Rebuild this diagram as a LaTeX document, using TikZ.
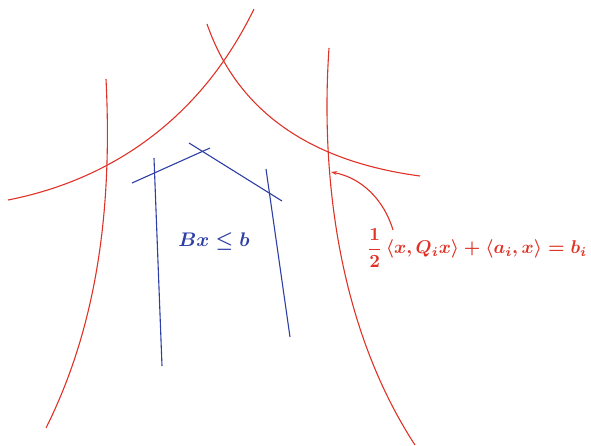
\documentclass[tikz,border=0pt]{standalone}
\usepackage{amsmath}
\usetikzlibrary{arrows.meta}
\definecolor{cred}{RGB}{222,50,38}
\definecolor{cblue}{RGB}{45,62,165}
\begin{document}
\begin{tikzpicture}[x=1pt,y=-1pt,
  quad/.style={draw=cred,line width=1.1pt},
  lin/.style={draw=cblue,line width=1.1pt},
  lbl/.style={inner sep=0pt}]
\useasboundingbox (0,0) rectangle (591,445);
% red quadratic curves
\draw[quad] (8,200) .. controls (110,180) and (200,120) .. (254,9);
\draw[quad] (207,24) .. controls (230,90) and (285,158) .. (420,176);
\draw[quad] (106,79) .. controls (112,200) and (100,320) .. (46,428);
\draw[quad] (329,48) .. controls (320,180) and (340,330) .. (415,445);
% blue linear constraints
\draw[lin] (154,158) -- (162,366);
\draw[lin] (266,169) -- (290,337);
\draw[lin] (132,183) -- (210,148);
\draw[lin] (189,143) -- (282,201);
% labels
\node[lbl,text=cblue] (bx) at (214,242) {\scalebox{1.97}{\boldmath$Bx \le b$}};
\node[lbl,text=cred,anchor=west] (qc) at (367,248) {\scalebox{1.85}{\boldmath$\dfrac{1}{2}\,\langle x, Q_i x\rangle + \langle a_i, x\rangle = b_i$}};
\coordinate (tip) at (331,172);
\coordinate (tail) at (393,230);
\draw[quad,-{Stealth[length=6pt,width=4pt]}] (tail) .. controls (384,200) and (362,178) .. (tip);
\end{tikzpicture}
\end{document}
